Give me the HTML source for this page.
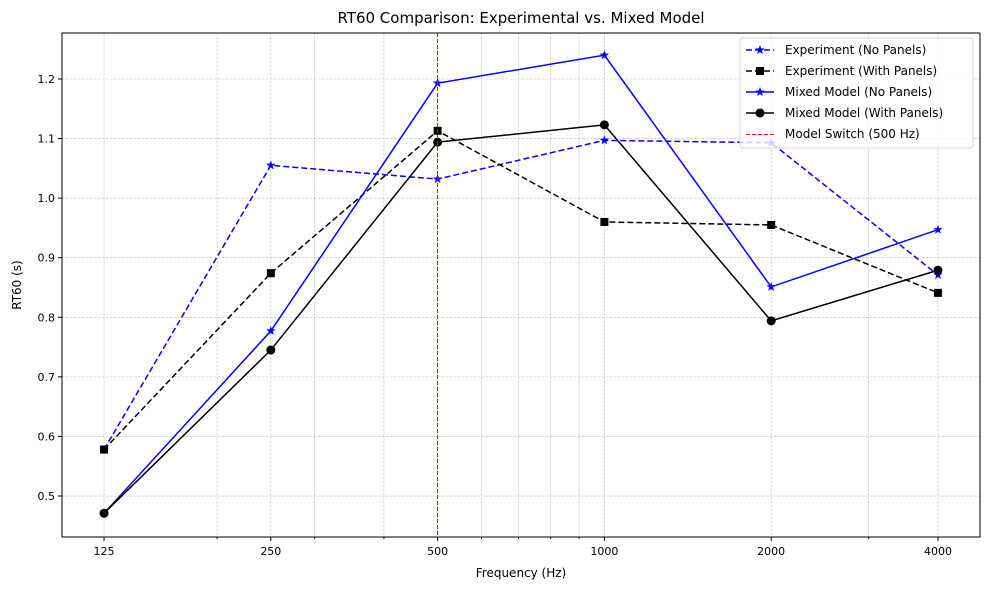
<!DOCTYPE html>
<html><head><meta charset="utf-8"><style>
body{margin:0;background:#fff;font-family:"Liberation Sans","DejaVu Sans",sans-serif;}
svg text{font-family:"DejaVu Sans","Liberation Sans",sans-serif;}
</style></head><body>
<svg id="chart" width="989" height="590" viewBox="0 0 989 590" xmlns="http://www.w3.org/2000/svg">
<rect width="989" height="590" fill="#fff"/>
<g id="grid"></g>
<g id="series"></g>
<g id="switch"></g>
<rect x="62" y="33" width="918" height="504" fill="none" stroke="#000" stroke-width="1"/>
<g id="axes"></g>
<text x="521" y="23" font-size="15" text-anchor="middle">RT60 Comparison: Experimental vs. Mixed Model</text>
<text x="521" y="577" font-size="12" text-anchor="middle">Frequency (Hz)</text>
<text x="21" y="285" font-size="12" text-anchor="middle" transform="rotate(-90 21 285)">RT60 (s)</text>
<g id="legend"></g>
</svg>
<script>
const freqs=[125,250,500,1000,2000,4000];
const expNo=[0.578,1.055,1.032,1.097,1.093,0.871];
const expWith=[0.578,0.874,1.113,0.960,0.955,0.841];
const mixNo=[0.471,0.777,1.193,1.240,0.851,0.947];
const mixWith=[0.471,0.745,1.094,1.123,0.794,0.879];
const yTicks=[0.5,0.6,0.7,0.8,0.9,1.0,1.1,1.2];
const minorX=[200,300,400,600,700,800,900,3000];
const switchFreq=500;

const NS="http://www.w3.org/2000/svg";
const L=62,R=980,T=33,B=537;
const xmin=Math.log2(125)-0.252,xmax=Math.log2(4000)+0.252;
const ymin=0.4312,ymax=1.2772;
const X=f=>L+(Math.log2(f)-xmin)/(xmax-xmin)*(R-L);
const Y=v=>B-(v-ymin)/(ymax-ymin)*(B-T);
function mk(tag,at,parent){const e=document.createElementNS(NS,tag);for(const k in at)e.setAttribute(k,at[k]);parent.appendChild(e);return e;}
const grid=document.getElementById('grid'),axes=document.getElementById('axes'),ser=document.getElementById('series'),leg=document.getElementById('legend'),swl=document.getElementById('switch');
const gs={stroke:"#b0b0b0","stroke-width":0.6,"stroke-opacity":0.9,"stroke-dasharray":"2.5,1.5"};
yTicks.forEach(v=>{const y=Y(v);
 const g=mk('line',Object.assign({x1:L,x2:R,y1:y,y2:y},gs),grid);
 const t=mk('line',{x1:L-4,x2:L,y1:y,y2:y,stroke:"#000"},axes);
 const l=mk('text',{x:L-7,y:y+4,"font-size":11,"text-anchor":"end"},axes);l.textContent=v.toFixed(1);});
freqs.forEach(f=>{const x=X(f);
 if(f!==switchFreq){const g=mk('line',Object.assign({x1:x,x2:x,y1:T,y2:B},gs),grid);}
 const t=mk('line',{x1:x,x2:x,y1:B,y2:B+4,stroke:"#000"},axes);
 const l=mk('text',{x:x,y:B+18,"font-size":11,"text-anchor":"middle"},axes);l.textContent=f;});
minorX.forEach(f=>{const x=X(f);
 const g=mk('line',Object.assign({x1:x,x2:x,y1:T,y2:B},gs),grid);
 const t=mk('line',{x1:x,x2:x,y1:B,y2:B+2,stroke:"#000"},axes);});
const sx=Math.floor(X(switchFreq))+0.5;
const sw=mk('line',{x1:sx,x2:sx,y1:T,y2:B,stroke:"#ff0000","stroke-width":1,"stroke-dasharray":"4,2","shape-rendering":"crispEdges"},swl);

function star(cx,cy,r){let p=[];for(let i=0;i<10;i++){const a=-Math.PI/2+i*Math.PI/5,rr=i%2?r*0.4:r;p.push((cx+rr*Math.cos(a)).toFixed(1)+","+(cy+rr*Math.sin(a)).toFixed(1));}return p.join(" ");}
function marker(type,x,y,color,parent){let m;
 if(type==='star')m=mk('polygon',{points:star(x,y,5),fill:color},parent);
 else if(type==='square')m=mk('rect',{x:x-4,y:y-4,width:8,height:8,fill:color},parent);
 else m=mk('circle',{cx:x,cy:y,r:4.5,fill:color},parent);
 }
const S=[
 {name:'experiment-no-panels',vals:expNo,color:'#0000ff',dash:'6,3',mk:'star'},
 {name:'experiment-with-panels',vals:expWith,color:'#000',dash:'6,3',mk:'square'},
 {name:'mixed-model-no-panels',vals:mixNo,color:'#0000ff',dash:'',mk:'star'},
 {name:'mixed-model-with-panels',vals:mixWith,color:'#000',dash:'',mk:'circle'}];
S.forEach(s=>{const g=mk('g',{},ser);
 const pts=freqs.map((f,i)=>X(f)+","+Y(s.vals[i])).join(" ");
 const pl=mk('polyline',{points:pts,fill:'none',stroke:s.color,'stroke-width':1.5,'stroke-dasharray':s.dash},g);
 
 freqs.forEach((f,i)=>marker(s.mk,X(f),Y(s.vals[i]),s.color,g));});
const lb=mk('rect',{x:740,y:38,width:233,height:110,fill:'#fff','fill-opacity':0.8,stroke:'#d8d8d8',rx:3},leg);

const labels=['Experiment (No Panels)','Experiment (With Panels)','Mixed Model (No Panels)','Mixed Model (With Panels)','Model Switch (500 Hz)'];
labels.forEach((t,i)=>{const y=50+i*21;const g=mk('g',{},leg);
 if(i<4){const s=S[i];mk('line',{x1:746,x2:774,y1:y,y2:y,stroke:s.color,'stroke-width':1.5,'stroke-dasharray':s.dash},g);marker(s.mk,760,y,s.color,g);}
 else mk('line',{x1:746,x2:774,y1:y+0.5,y2:y+0.5,stroke:'#ff0000','stroke-width':1,'stroke-dasharray':'4,2','shape-rendering':'crispEdges'},g);
 const tx=mk('text',{x:785,y:y+4,'font-size':12},g);tx.textContent=t;});
</script>
</body></html>
